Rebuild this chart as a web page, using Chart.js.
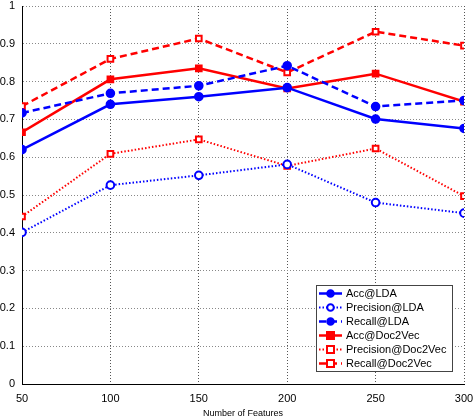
<!DOCTYPE html>
<html><head><meta charset="utf-8">
<script src="https://cdn.jsdelivr.net/npm/chart.js@4.4.1/dist/chart.umd.min.js"></script>
<style>html,body{margin:0;padding:0;background:#fff}#wrap{width:473px;height:419px;position:relative}</style>
</head><body><div id="wrap"><canvas id="c" width="473" height="419"></canvas></div>
<script>
const features = [50, 100, 150, 200, 250, 300];
const accLDA = [0.620, 0.740, 0.760, 0.784, 0.701, 0.676];
const precLDA = [0.401, 0.526, 0.552, 0.581, 0.480, 0.452];
const recLDA = [0.717, 0.769, 0.789, 0.842, 0.734, 0.750];
const accD2V = [0.666, 0.806, 0.835, 0.782, 0.821, 0.747];
const precD2V = [0.443, 0.609, 0.647, 0.577, 0.623, 0.497];
const recD2V = [0.735, 0.860, 0.914, 0.824, 0.932, 0.895];
const yTicks = [0,0.1,0.2,0.3,0.4,0.5,0.6,0.7,0.8,0.9,1];

const BLUE = '#0000ff', RED = '#ff0000';
function ds(label, vals, color, dash, width, style, fill) {
  return {
    label, data: vals.map((v,i)=>({x:features[i], y:v})),
    borderColor: color, borderWidth: width, borderDash: dash,
    pointStyle: style, pointRadius: style==='rect'?4:3.8,
    pointBackgroundColor: fill, pointBorderColor: color, pointBorderWidth: 2,
    fill:false, tension:0
  };
}
const datasets = [
  ds('Acc@LDA', accLDA, BLUE, [], 2.5, 'circle', BLUE),
  ds('Precision@LDA', precLDA, BLUE, [1.5,2], 2, 'circle', '#fff'),
  ds('Recall@LDA', recLDA, BLUE, [7,4], 2.5, 'circle', BLUE),
  ds('Acc@Doc2Vec', accD2V, RED, [], 2.5, 'rect', RED),
  ds('Precision@Doc2Vec', precD2V, RED, [1.5,2], 2, 'rect', '#fff'),
  ds('Recall@Doc2Vec', recD2V, RED, [7,4], 2.5, 'rect', '#fff'),
];

const legendPlugin = {
  id:'boxLegend',
  afterDraw(chart){
    const ctx = chart.ctx;
    const x0=316, y0=285, w=136, h=86;
    ctx.save();
    ctx.fillStyle='#fff'; ctx.fillRect(x0,y0,w,h);
    ctx.strokeStyle='#444'; ctx.lineWidth=1; ctx.setLineDash([]);
    ctx.strokeRect(x0+0.5,y0+0.5,w,h);
    ctx.font='11px "Liberation Sans", Arial, sans-serif';
    ctx.textBaseline='middle'; ctx.textAlign='left';
    chart.data.datasets.forEach((d,i)=>{
      const y = y0 + 8.5 + i*14;
      ctx.strokeStyle=d.borderColor; ctx.lineWidth=d.borderWidth;
      ctx.setLineDash(d.borderDash||[]);
      ctx.beginPath(); ctx.moveTo(x0+3,y); ctx.lineTo(x0+26,y); ctx.stroke();
      ctx.setLineDash([]);
      ctx.fillStyle = d.pointBackgroundColor; ctx.lineWidth=2; ctx.strokeStyle=d.borderColor;
      const cx=x0+14.5;
      ctx.beginPath();
      if(d.pointStyle==='rect'){ ctx.rect(cx-3.5,y-3.5,7,7);} else { ctx.arc(cx,y,3.3,0,Math.PI*2);}
      ctx.fill(); ctx.stroke();
      ctx.fillStyle='#000';
      ctx.fillText(d.label, x0+30, y+0.5);
    });
    ctx.restore();
  }
};

function zeroPad(s){ s.paddingTop=0; s.paddingBottom=0; s.paddingLeft=0; s.paddingRight=0; }

new Chart(document.getElementById('c'), {
  type:'line',
  data:{datasets},
  options:{
    responsive:false, animation:false,
    layout:{padding:{top:4,right:9,left:0,bottom:0}},
    plugins:{legend:{display:false}, tooltip:{enabled:false}},
    scales:{
      x:{type:'linear', min:50, max:300,
        afterBuildTicks(s){ s.ticks = features.map(v=>({value:v})); },
        afterFit(s){ s.height = 35; zeroPad(s); },
        ticks:{color:'#000', padding:8, maxRotation:0, font:{size:11, family:'"Liberation Sans", Arial, sans-serif'}},
        grid:{color:'#555', lineWidth:1, drawTicks:false},
        border:{display:true, color:'#000', width:1, dash:[1,2]},
        title:{display:true, text:'Number of Features', color:'#000', padding:{top:4,bottom:0}, font:{size:9, family:'"Liberation Sans", Arial, sans-serif'}}
      },
      y:{type:'linear', min:0, max:1,
        afterBuildTicks(s){ s.ticks = yTicks.map(v=>({value:v})); },
        afterFit(s){ s.width = 22; zeroPad(s); },
        ticks:{color:'#000', padding:7, font:{size:11, family:'"Liberation Sans", Arial, sans-serif'}, callback:v=>String(v)},
        grid:{color:'#888', lineWidth:1, drawTicks:false},
        border:{display:true, color:'#000', width:1, dash:[1,2]}
      }
    }
  },
  plugins:[legendPlugin]
});
</script></body></html>
